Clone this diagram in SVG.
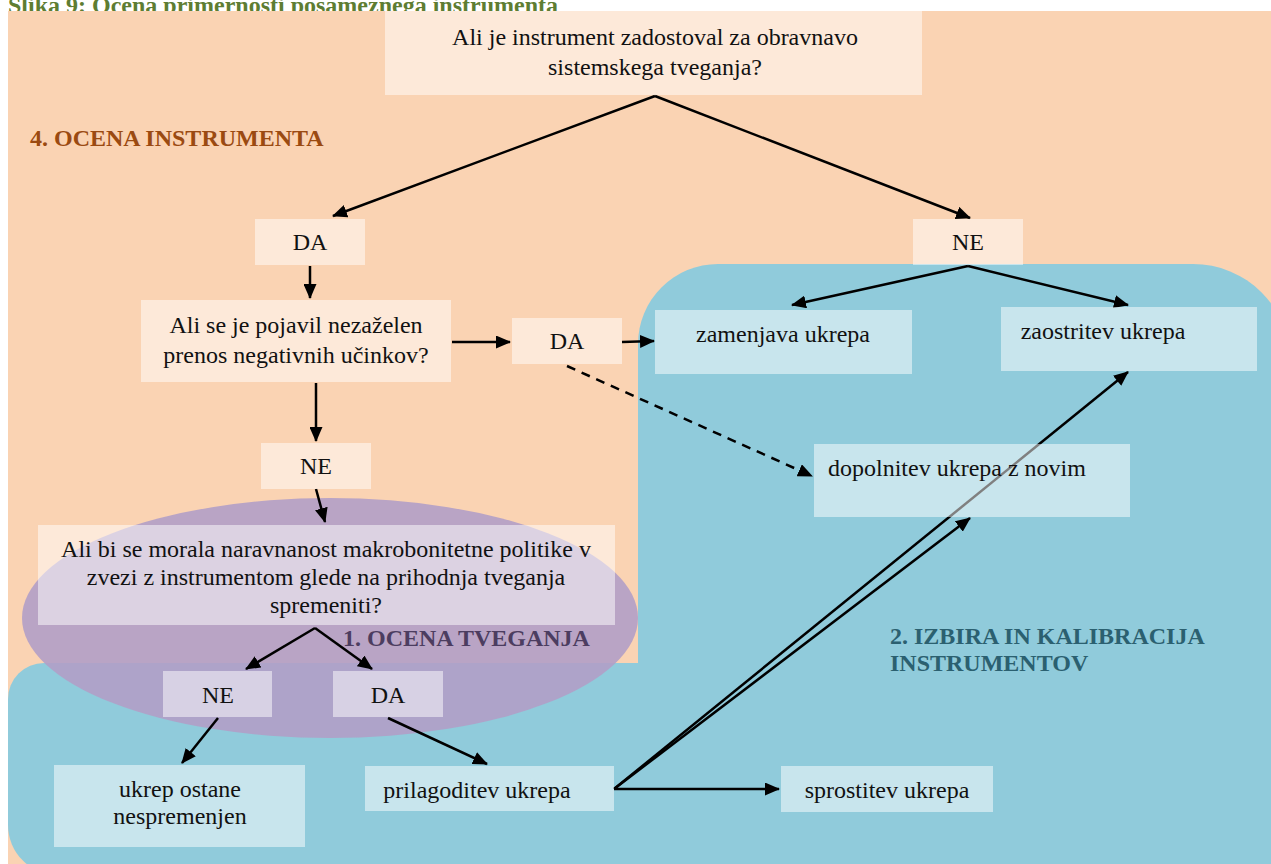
<svg xmlns="http://www.w3.org/2000/svg" width="1271" height="864" viewBox="0 0 1271 864">
<defs>
<marker id="arr" markerUnits="userSpaceOnUse" markerWidth="15" markerHeight="13" refX="14" refY="6.5" orient="auto">
<path d="M0,0 L15,6.5 L0,13 z" fill="#000"/>
</marker>
<style>
.box{fill:#ffffff;fill-opacity:0.5}
.t{font-family:"Liberation Serif","Times New Roman",serif;font-size:24px;fill:#111;text-anchor:middle}
.lbl{font-family:"Liberation Serif","Times New Roman",serif;font-size:24px;font-weight:bold}
.c{fill:none;stroke:#000;stroke-width:2.5;marker-end:url(#arr)}
</style>
</defs>
<rect x="0" y="0" width="1271" height="864" fill="#ffffff"/>
<text x="8" y="13" class="lbl" fill="#5e7d32">Slika 9: Ocena primernosti posameznega instrumenta</text>
<g id="regions">
<rect x="8" y="11" width="1263" height="652" fill="#fad3b3"/>
<rect x="8" y="11" width="630" height="853" fill="#fad3b3"/>
<path d="M638,344 A80,80 0 0 1 718,264 L1193,264 A97,97 0 0 1 1290,361 L1290,900 L638,900 Z" fill="#90cbdb"/>
<path d="M8,699 A36,36 0 0 1 44,663 L700,663 L700,875 L58,875 A50,50 0 0 1 8,825 Z" fill="#90cbdb"/>
<ellipse cx="330" cy="618" rx="308" ry="120" fill="#b19ec7" fill-opacity="0.9"/>
<text x="30" y="146" class="lbl" fill="#9b4a11">4. OCENA INSTRUMENTA</text>
<text x="343" y="646" class="lbl" fill="#4c3d60">1. OCENA TVEGANJA</text>
<text x="890" y="644" class="lbl" fill="#2b6070">2. IZBIRA IN KALIBRACIJA</text>
<text x="890" y="671" class="lbl" fill="#2b6070">INSTRUMENTOV</text>
</g>
<g id="connectors">
<path class="c" d="M655,96 L333,216"/>
<path class="c" d="M655,96 L970,218"/>
<path class="c" d="M310,266 L310,298"/>
<path class="c" d="M316,383 L316,441"/>
<path class="c" d="M452,342 L510,342"/>
<path class="c" d="M622,342 L654,341"/>
<path class="c" d="M567,366 L812,476" stroke-dasharray="9,7"/>
<path class="c" d="M968,266 L792,305"/>
<path class="c" d="M968,266 L1128,305"/>
<path class="c" d="M316,489 L325,522"/>
<path class="c" d="M315,628 L246,669"/>
<path class="c" d="M315,628 L372,669"/>
<path class="c" d="M218,718 L182,763"/>
<path class="c" d="M388,718 L487,764"/>
<path class="c" d="M614,789 L1128,372"/>
<path class="c" d="M614,789 L970,518"/>
<path class="c" d="M614,789 L779,789"/>
</g>
<g id="q1"><rect class="box" x="385" y="11" width="537" height="84"/><text class="t" x="655" y="45">Ali je instrument zadostoval za obravnavo</text><text class="t" x="655" y="75">sistemskega tveganja?</text></g>
<g id="da1"><rect class="box" x="255" y="219" width="110" height="46"/><text class="t" x="310" y="250">DA</text></g>
<g id="ne1"><rect class="box" x="913" y="219" width="110" height="46"/><text class="t" x="968" y="250">NE</text></g>
<g id="q2"><rect class="box" x="141" y="300" width="310" height="82"/><text class="t" x="296" y="333">Ali se je pojavil nezaželen</text><text class="t" x="296" y="363">prenos negativnih učinkov?</text></g>
<g id="da2"><rect class="box" x="512" y="318" width="110" height="46"/><text class="t" x="567" y="349">DA</text></g>
<g id="ne2"><rect class="box" x="261" y="443" width="110" height="46"/><text class="t" x="316" y="474">NE</text></g>
<g id="q3"><rect class="box" x="38" y="525" width="577" height="100"/><text class="t" x="326" y="557">Ali bi se morala naravnanost makrobonitetne politike v</text><text class="t" x="326" y="585">zvezi z instrumentom glede na prihodnja tveganja</text><text class="t" x="326" y="613">spremeniti?</text></g>
<g id="ne3"><rect class="box" x="163" y="671" width="109" height="46"/><text class="t" x="218" y="703">NE</text></g>
<g id="da3"><rect class="box" x="333" y="671" width="110" height="46"/><text class="t" x="388" y="703">DA</text></g>
<g id="ostane"><rect class="box" x="54" y="765" width="251" height="82"/><text class="t" x="180" y="797">ukrep ostane</text><text class="t" x="180" y="824">nespremenjen</text></g>
<g id="prilagoditev"><rect class="box" x="365" y="766" width="249" height="45"/><text class="t" x="477" y="798">prilagoditev ukrepa</text></g>
<g id="sprostitev"><rect class="box" x="781" y="766" width="212" height="46"/><text class="t" x="887" y="798">sprostitev ukrepa</text></g>
<g id="zamenjava"><rect class="box" x="655" y="310" width="257" height="64"/><text class="t" x="783" y="342">zamenjava ukrepa</text></g>
<g id="zaostritev"><rect class="box" x="1001" y="307" width="256" height="64"/><text class="t" x="1103" y="339">zaostritev ukrepa</text></g>
<g id="dopolnitev"><rect class="box" x="814" y="444" width="316" height="73"/><text class="t" x="957" y="476">dopolnitev ukrepa z novim</text></g>
</svg>
